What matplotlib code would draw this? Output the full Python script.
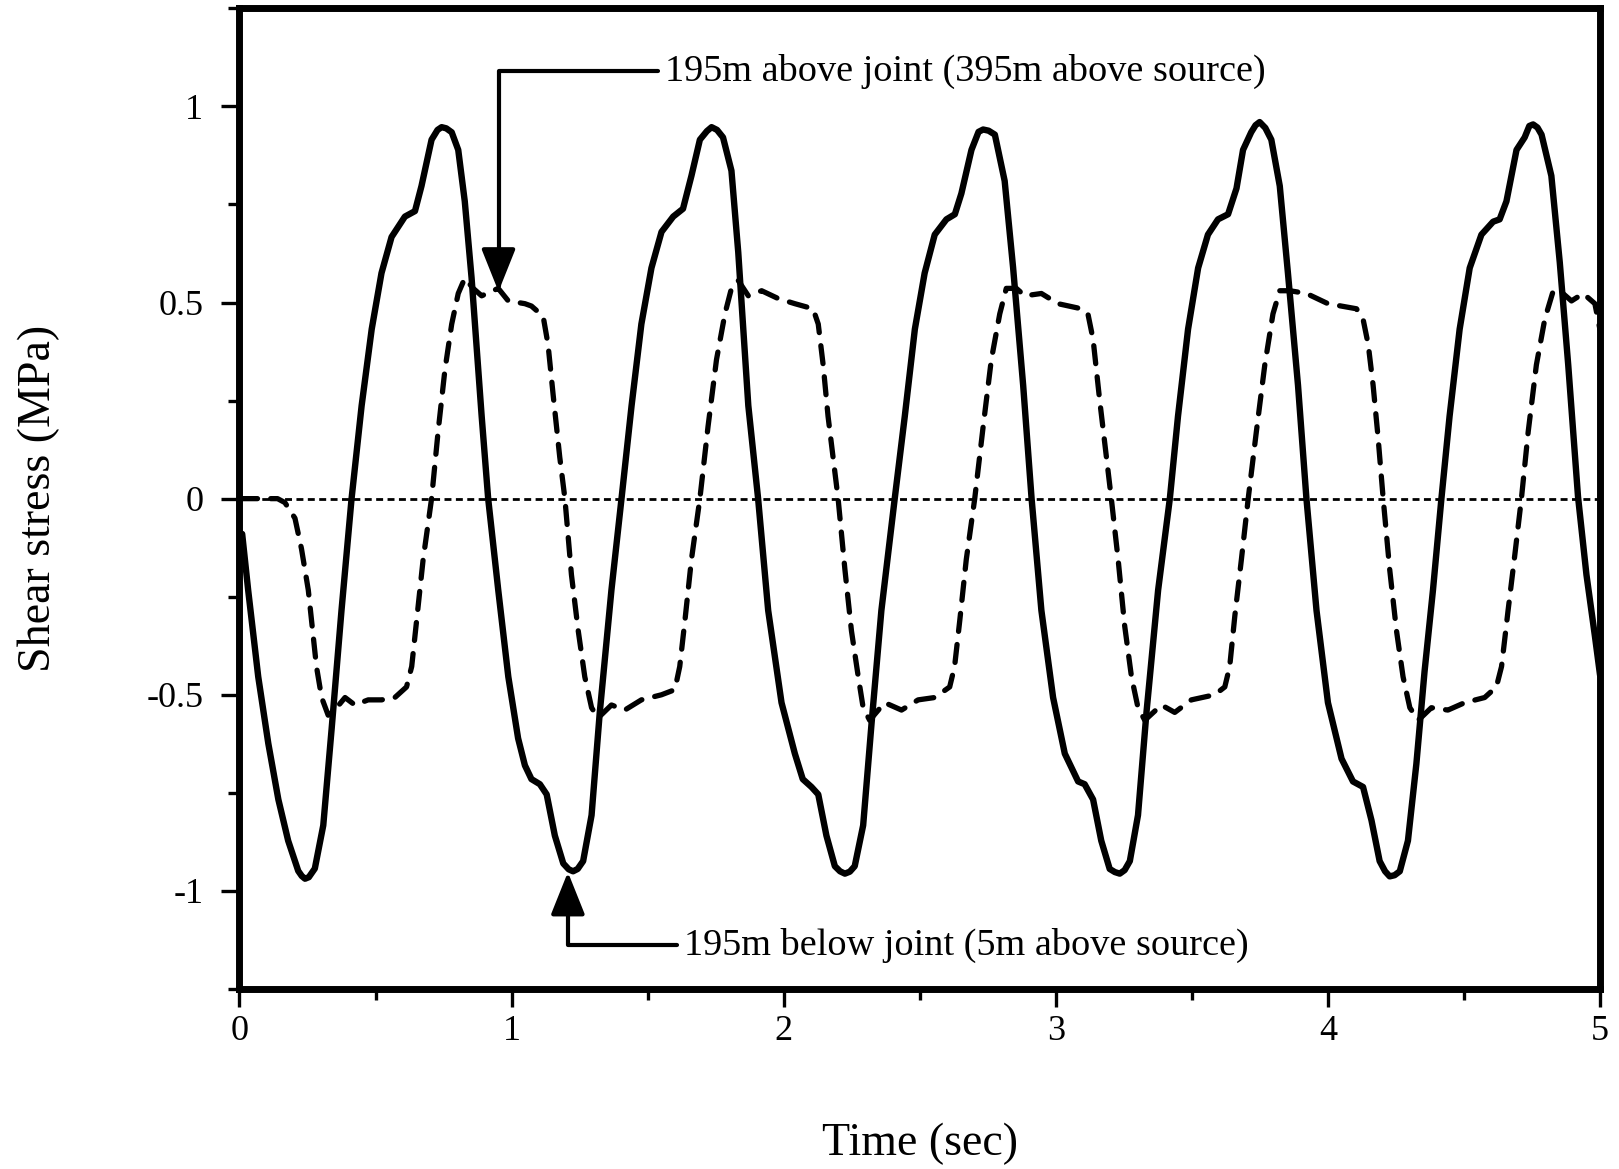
import numpy as np
import matplotlib
matplotlib.use("Agg")
import matplotlib.pyplot as plt
from matplotlib.ticker import MultipleLocator, FuncFormatter

# shear stress traces (time in s, stress in MPa)
# solid: 195 m below joint
below_t = [0.010, 0.032, 0.069, 0.106, 0.143, 0.179, 0.216, 0.229, 0.241, 0.255, 0.277, 0.308,
           0.339, 0.375, 0.412, 0.449, 0.486, 0.522, 0.559, 0.608, 0.645, 0.669,
           0.706, 0.728, 0.743, 0.760, 0.780, 0.804, 0.828, 0.853, 0.890, 0.914, 0.951, 0.988,
           1.024, 1.049, 1.073, 1.104, 1.129, 1.159, 1.190, 1.210, 1.226, 1.243, 1.263, 1.294,
           1.324, 1.367, 1.404, 1.441, 1.477, 1.514, 1.551, 1.594, 1.630, 1.661,
           1.692, 1.718, 1.735, 1.755, 1.777, 1.808, 1.833, 1.870, 1.906, 1.943, 1.992, 2.041,
           2.070, 2.102, 2.127, 2.157, 2.188, 2.207, 2.225, 2.243, 2.261, 2.292, 2.323, 2.359,
           2.408, 2.445, 2.482, 2.518, 2.555, 2.598, 2.629, 2.653, 2.690, 2.716, 2.733, 2.753,
           2.776, 2.812, 2.843, 2.880, 2.911, 2.947, 2.990, 3.033, 3.082, 3.106,
           3.137, 3.167, 3.198, 3.217, 3.235, 3.253, 3.272, 3.302, 3.333, 3.376, 3.419, 3.449,
           3.486, 3.523, 3.559, 3.596, 3.633, 3.664, 3.688, 3.718, 3.734, 3.749, 3.770, 3.792,
           3.823, 3.853, 3.890, 3.921, 3.958, 4.000, 4.050, 4.092, 4.129, 4.160,
           4.190, 4.210, 4.227, 4.245, 4.264, 4.294, 4.325, 4.355, 4.386, 4.417, 4.447, 4.484,
           4.521, 4.564, 4.607, 4.631, 4.656, 4.693, 4.723, 4.740, 4.754, 4.770, 4.785, 4.821,
           4.852, 4.883, 4.919, 4.950, 4.981, 5.000]
below_v = [-0.09, -0.233, -0.454, -0.624, -0.767, -0.872, -0.949, -0.962, -0.969, -0.965, -0.943, -0.833,
           -0.585, -0.285, 0.0, 0.237, 0.432, 0.575, 0.667, 0.719, 0.733, 0.797,
           0.915, 0.940, 0.947, 0.944, 0.934, 0.889, 0.758, 0.563, 0.211, 0.0, -0.233, -0.454,
           -0.611, -0.680, -0.715, -0.728, -0.754, -0.859, -0.930, -0.945, -0.950, -0.944, -0.924, -0.807,
           -0.546, -0.233, 0.0, 0.237, 0.445, 0.588, 0.680, 0.719, 0.739, 0.823,
           0.915, 0.937, 0.947, 0.940, 0.921, 0.836, 0.628, 0.237, 0.0, -0.285, -0.520, -0.650,
           -0.715, -0.735, -0.754, -0.859, -0.937, -0.950, -0.956, -0.951, -0.937, -0.833, -0.572, -0.285,
           0.0, 0.210, 0.432, 0.575, 0.673, 0.712, 0.725, 0.778, 0.889, 0.935, 0.941, 0.938,
           0.928, 0.810, 0.589, 0.289, 0.0, -0.285, -0.507, -0.650, -0.721, -0.728,
           -0.767, -0.872, -0.944, -0.952, -0.956, -0.947, -0.924, -0.807, -0.546, -0.233, 0.0, 0.210,
           0.432, 0.588, 0.673, 0.712, 0.725, 0.791, 0.889, 0.934, 0.952, 0.960, 0.945, 0.915,
           0.797, 0.575, 0.289, 0.0, -0.285, -0.520, -0.663, -0.721, -0.735, -0.820,
           -0.924, -0.950, -0.963, -0.960, -0.950, -0.872, -0.676, -0.441, -0.233, 0.0, 0.210, 0.432,
           0.588, 0.673, 0.706, 0.712, 0.758, 0.889, 0.921, 0.950, 0.954, 0.946, 0.928, 0.823,
           0.602, 0.341, 0.005, -0.194, -0.350, -0.450]

# dashed: 195 m above joint
above_t = [0.000, 0.140, 0.167, 0.204, 0.228, 0.253, 0.271, 0.283, 0.302, 0.326,
           0.357, 0.388, 0.424, 0.473, 0.522, 0.571, 0.614, 0.633, 0.651, 0.675,
           0.706, 0.730, 0.755, 0.780, 0.804, 0.828, 0.859, 0.890, 0.951, 0.988,
           1.049, 1.073, 1.116, 1.134, 1.153, 1.177, 1.196, 1.220, 1.245, 1.269,
           1.294, 1.318, 1.367, 1.416, 1.477, 1.551, 1.600, 1.618, 1.637, 1.661,
           1.692, 1.722, 1.753, 1.784, 1.808, 1.833, 1.870, 1.919, 1.980, 2.041,
           2.108, 2.127, 2.145, 2.163, 2.188, 2.200, 2.225, 2.249, 2.274, 2.292,
           2.316, 2.371, 2.433, 2.494, 2.555, 2.610, 2.628, 2.647, 2.671, 2.702,
           2.733, 2.763, 2.794, 2.818, 2.855, 2.886, 2.947, 3.008, 3.094, 3.118,
           3.137, 3.161, 3.186, 3.204, 3.229, 3.253, 3.278, 3.302, 3.327, 3.388,
           3.437, 3.498, 3.584, 3.621, 3.639, 3.658, 3.682, 3.707, 3.737, 3.768,
           3.798, 3.823, 3.860, 3.921, 4.000, 4.105, 4.129, 4.148, 4.166, 4.184,
           4.203, 4.227, 4.252, 4.276, 4.301, 4.332, 4.380, 4.441, 4.503, 4.576,
           4.619, 4.638, 4.662, 4.687, 4.711, 4.736, 4.766, 4.797, 4.828, 4.852,
           4.895, 4.938, 4.981, 5.000]
above_v = [0.0, 0.0, -0.010, -0.050, -0.128, -0.233, -0.350, -0.428, -0.507, -0.552,
           -0.533, -0.507, -0.526, -0.513, -0.513, -0.507, -0.480, -0.428, -0.311, -0.155,
           0.0, 0.171, 0.328, 0.445, 0.523, 0.562, 0.536, 0.517, 0.536, 0.504,
           0.497, 0.491, 0.465, 0.393, 0.263, 0.106, 0.0, -0.194, -0.337, -0.454,
           -0.533, -0.559, -0.526, -0.539, -0.513, -0.500, -0.487, -0.428, -0.311, -0.155,
           0.0, 0.184, 0.354, 0.471, 0.536, 0.556, 0.517, 0.530, 0.510, 0.497,
           0.484, 0.445, 0.341, 0.210, 0.067, 0.0, -0.181, -0.337, -0.454, -0.533,
           -0.565, -0.520, -0.539, -0.513, -0.507, -0.480, -0.428, -0.311, -0.155, 0.0,
           0.184, 0.354, 0.471, 0.536, 0.536, 0.517, 0.523, 0.497, 0.484, 0.471,
           0.406, 0.252, 0.106, 0.0, -0.155, -0.324, -0.454, -0.533, -0.565, -0.526,
           -0.545, -0.513, -0.500, -0.480, -0.428, -0.298, -0.155, 0.0, 0.171, 0.341,
           0.471, 0.530, 0.530, 0.523, 0.497, 0.484, 0.458, 0.393, 0.289, 0.158,
           0.0, -0.181, -0.337, -0.454, -0.533, -0.565, -0.533, -0.539, -0.520, -0.507,
           -0.480, -0.428, -0.285, -0.142, 0.0, 0.171, 0.341, 0.458, 0.530, 0.530,
           0.504, 0.523, 0.497, 0.430]

xticks = [0, 1, 2, 3, 4, 5]
yticks = [-1, -0.5, 0, 0.5, 1]
label_above = "195m above joint (395m above source)"
label_below = "195m below joint (5m above source)"

plt.rcParams['font.family'] = 'Liberation Serif'
plt.rcParams['axes.unicode_minus'] = False
plt.rcParams['lines.scale_dashes'] = False

fig = plt.figure(figsize=(16.19, 11.69), dpi=100)
ax = fig.add_axes([0.1479, 0.154, 0.8404, 0.8389])

ax.axhline(0, color='black', lw=2.0, dashes=(5, 3.2))
ax.plot(above_t, above_v, color='black', lw=3.8, dashes=(13, 9.5), dash_capstyle='round',
        dash_joinstyle='round')
ax.plot(below_t, below_v, color='black', lw=4.6, solid_capstyle='round', solid_joinstyle='round')

ax.set_xlim(0, 5)
ax.set_ylim(-1.25, 1.25)
ax.set_xticks(xticks)
ax.set_yticks(yticks)
ax.xaxis.set_minor_locator(MultipleLocator(0.5))
ax.yaxis.set_minor_locator(MultipleLocator(0.25))
fmt = FuncFormatter(lambda v, p: '%g' % v)
ax.xaxis.set_major_formatter(fmt)
ax.yaxis.set_major_formatter(fmt)

for s in ax.spines.values():
    s.set_linewidth(5)
ax.tick_params(which='both', direction='out', width=2.4, top=False, right=False)
ax.tick_params(which='major', length=13, labelsize=26)
ax.tick_params(axis='x', which='major', pad=6)
ax.tick_params(axis='y', which='major', pad=13)
ax.tick_params(which='minor', length=8)

ax.set_xlabel('Time (sec)', fontsize=33)
ax.set_ylabel('Shear stress (MPa)', fontsize=33)
ax.xaxis.set_label_coords(0.5, -0.136)
ax.yaxis.set_label_coords(-0.132, 0.5)

arrow = dict(arrowstyle='-|>,head_length=0.55,head_width=0.22', color='black', lw=3,
             mutation_scale=48, shrinkA=3, shrinkB=0, relpos=(0, 0.5),
             connectionstyle='angle,angleA=0,angleB=90,rad=0')
ax.annotate(label_above, xy=(0.952, 0.528), xytext=(1.563, 1.09),
            ha='left', va='center', fontsize=27.5, arrowprops=arrow)
ax.annotate(label_below, xy=(1.207, -0.952), xytext=(1.635, -1.138),
            ha='left', va='center', fontsize=27.5, arrowprops=arrow)

fig.savefig('out.png', dpi=100)
